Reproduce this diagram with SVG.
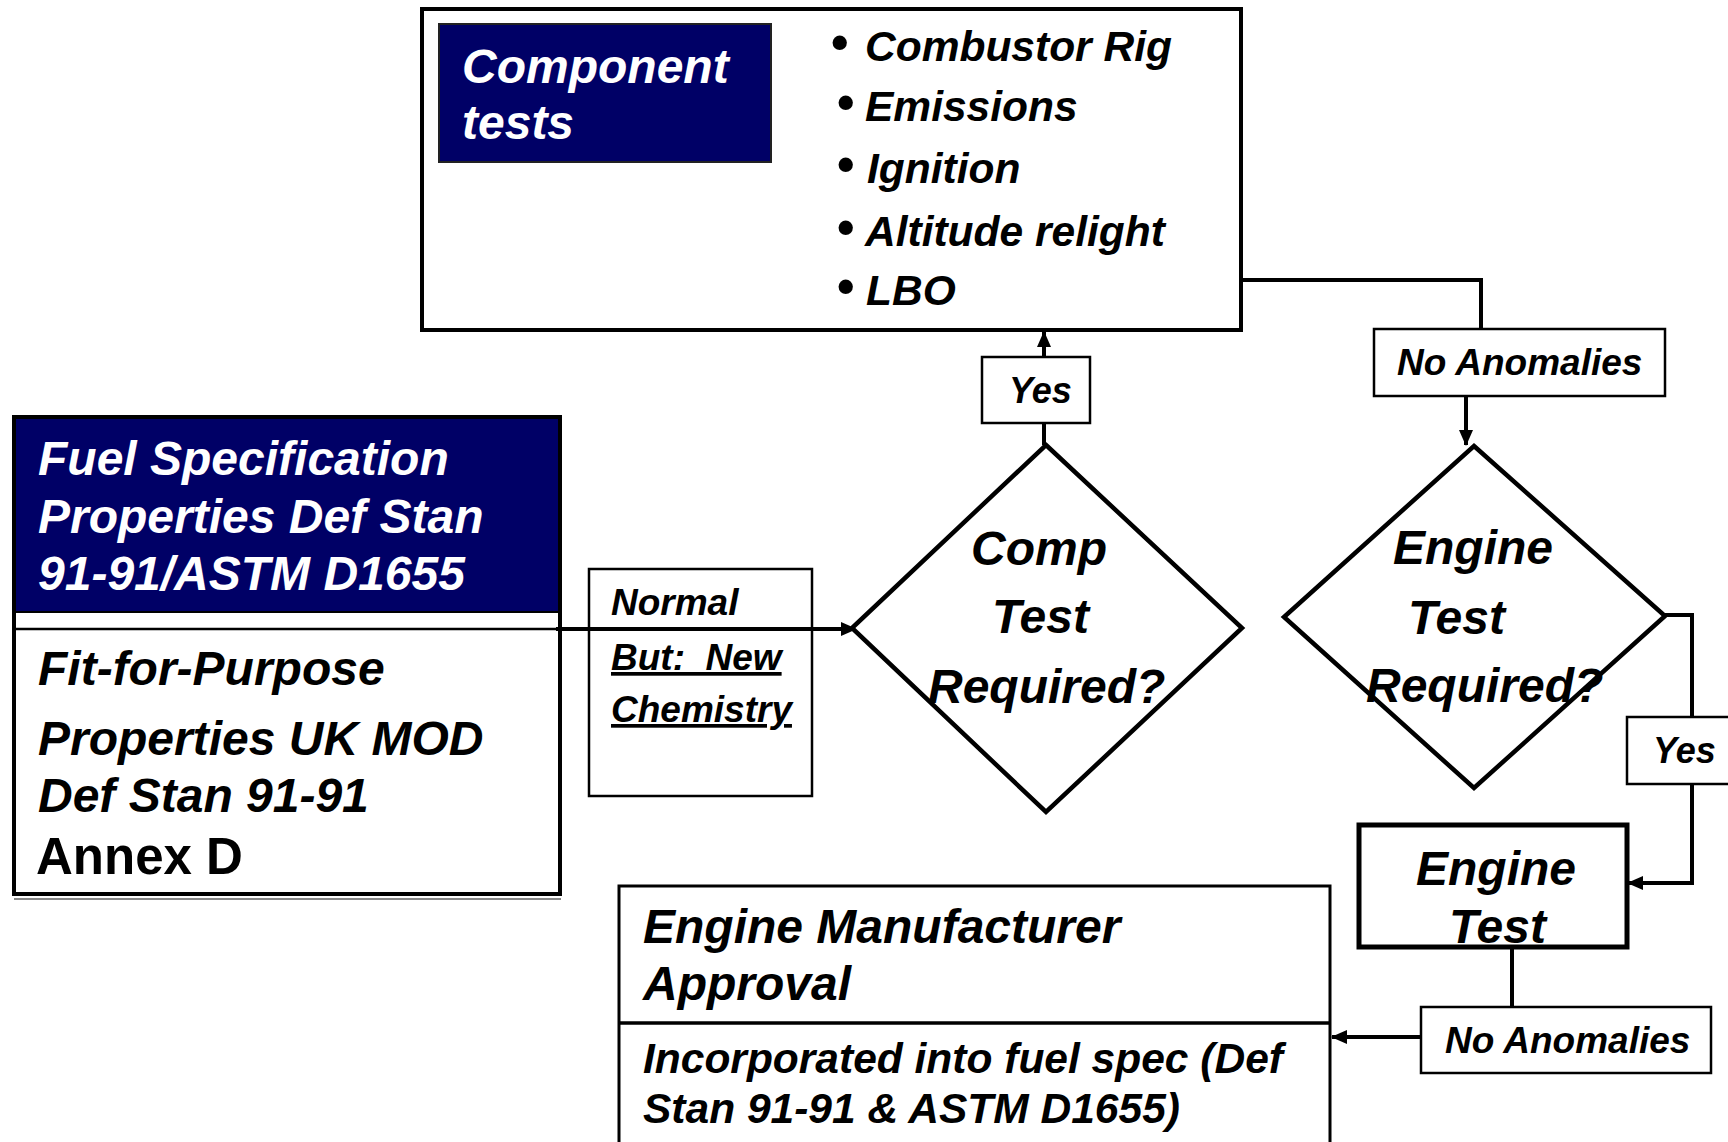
<svg xmlns="http://www.w3.org/2000/svg" width="1728" height="1142" viewBox="0 0 1728 1142">
<defs>
<marker id="arr" markerUnits="userSpaceOnUse" markerWidth="16" markerHeight="14" refX="15" refY="7" orient="auto">
<path d="M0,0 L16,7 L0,14 z" fill="#000"/>
</marker>
<style>
.t{font-family:"Liberation Sans",Arial,sans-serif;font-weight:bold;font-style:italic;fill:#000}
.n{font-style:normal}
.w{fill:#fff}
.box{fill:#fff;stroke:#000}
.con{fill:none;stroke:#000;stroke-width:4}
.navy{fill:#000066}
</style>
</defs>
<rect width="1728" height="1142" fill="#fff"/>

<g id="component-tests">
<rect class="box" x="422" y="9" width="819" height="321" stroke-width="4"/>
<rect class="navy" x="439" y="24" width="332" height="138" stroke="#222" stroke-width="2"/>
<text class="t w" x="462" y="83" font-size="48">Component</text>
<text class="t w" x="462" y="139" font-size="48">tests</text>
<g class="t" font-size="42.5">
<text class="n" x="831" y="59" font-size="50">•</text>
<text class="n" x="837" y="119" font-size="50">•</text>
<text class="n" x="837" y="181" font-size="50">•</text>
<text class="n" x="837" y="244" font-size="50">•</text>
<text class="n" x="837" y="303" font-size="50">•</text>
<text x="865" y="61">Combustor Rig</text>
<text x="865" y="121">Emissions</text>
<text x="867" y="183">Ignition</text>
<text x="865" y="246">Altitude relight</text>
<text x="866" y="305">LBO</text>
</g>
</g>

<g id="fuel-spec">
<rect class="navy" x="14" y="417" width="546" height="195"/>
<line x1="14" y1="612" x2="560" y2="612" stroke="#000" stroke-width="2"/>
<line x1="14" y1="629" x2="560" y2="629" stroke="#000" stroke-width="2.5"/>
<rect x="14" y="417" width="546" height="477" fill="none" stroke="#000" stroke-width="4"/>
<line x1="14" y1="899" x2="561" y2="899" stroke="#888" stroke-width="2"/>
<text class="t w" x="38" y="475" font-size="48">Fuel Specification</text>
<text class="t w" x="38" y="533" font-size="48">Properties Def Stan</text>
<text class="t w" x="38" y="590" font-size="48">91-91/ASTM D1655</text>
<text class="t" x="38" y="685" font-size="48">Fit-for-Purpose</text>
<text class="t" x="38" y="755" font-size="48">Properties UK MOD</text>
<text class="t" x="38" y="812" font-size="48">Def Stan 91-91</text>
<text class="t n" x="36" y="874" font-size="51">Annex D</text>
</g>

<g id="label-normal">
<rect class="box" x="589" y="569" width="223" height="227" stroke-width="2.5"/>
<text class="t" x="611" y="615" font-size="37">Normal</text>
<text class="t" x="611" y="670" font-size="37" text-decoration="underline" xml:space="preserve">But:  New</text>
<text class="t" x="611" y="722" font-size="37" text-decoration="underline">Chemistry</text>
</g>

<g id="connectors">
<line class="con" x1="556" y1="629" x2="856" y2="629" marker-end="url(#arr)"/>
<line class="con" x1="1044" y1="445" x2="1044" y2="332" marker-end="url(#arr)"/>
<polyline class="con" points="1241,280 1481,280 1481,329"/>
<line class="con" x1="1466" y1="397" x2="1466" y2="445" marker-end="url(#arr)"/>
<polyline class="con" points="1665,615 1692,615 1692,883 1628,883" marker-end="url(#arr)"/>
<line class="con" x1="1512" y1="947" x2="1512" y2="1007"/>
<line class="con" x1="1421" y1="1037" x2="1332" y2="1037" marker-end="url(#arr)"/>
</g>

<g id="label-yes-comp">
<rect class="box" x="982" y="357" width="108" height="66" stroke-width="2.5"/>
<text class="t" x="1009" y="403" font-size="36">Yes</text>
</g>

<g id="comp-test-decision">
<polygon points="1046,445 1242,628 1046,812 852,628" fill="#fff" stroke="#000" stroke-width="4.5"/>
<text class="t" x="971" y="565" font-size="48">Comp</text>
<text class="t" x="992" y="633" font-size="48">Test</text>
<text class="t" x="928" y="703" font-size="48">Required?</text>
</g>

<g id="label-no-anomalies-1">
<rect class="box" x="1374" y="329" width="291" height="67" stroke-width="2.5"/>
<text class="t" x="1397" y="375" font-size="37">No Anomalies</text>
</g>

<g id="engine-test-decision">
<polygon points="1474,446 1665,616 1474,788 1284,617" fill="none" stroke="#000" stroke-width="4.5"/>
<text class="t" x="1393" y="564" font-size="48">Engine</text>
<text class="t" x="1408" y="634" font-size="48">Test</text>
<text class="t" x="1366" y="702" font-size="48">Required?</text>
</g>

<g id="label-yes-engine">
<rect class="box" x="1627" y="717" width="104" height="67" stroke-width="2.5"/>
<text class="t" x="1653" y="763" font-size="36">Yes</text>
</g>

<g id="engine-test">
<rect class="box" x="1359" y="825" width="268" height="122" stroke-width="5"/>
<text class="t" x="1416" y="885" font-size="48">Engine</text>
<text class="t" x="1449" y="943" font-size="48">Test</text>
</g>

<g id="label-no-anomalies-2">
<rect class="box" x="1421" y="1007" width="290" height="66" stroke-width="2.5"/>
<text class="t" x="1445" y="1053" font-size="37">No Anomalies</text>
</g>

<g id="manufacturer-approval">
<rect class="box" x="619" y="886" width="711" height="280" stroke-width="3"/>
<line x1="619" y1="1023" x2="1330" y2="1023" stroke="#000" stroke-width="3.5"/>
<text class="t" x="643" y="943" font-size="48">Engine Manufacturer</text>
<text class="t" x="643" y="1000" font-size="48">Approval</text>
<text class="t" x="643" y="1073" font-size="42.5">Incorporated into fuel spec (Def</text>
<text class="t" x="643" y="1123" font-size="42.5">Stan 91-91 &amp; ASTM D1655)</text>
</g>
</svg>
